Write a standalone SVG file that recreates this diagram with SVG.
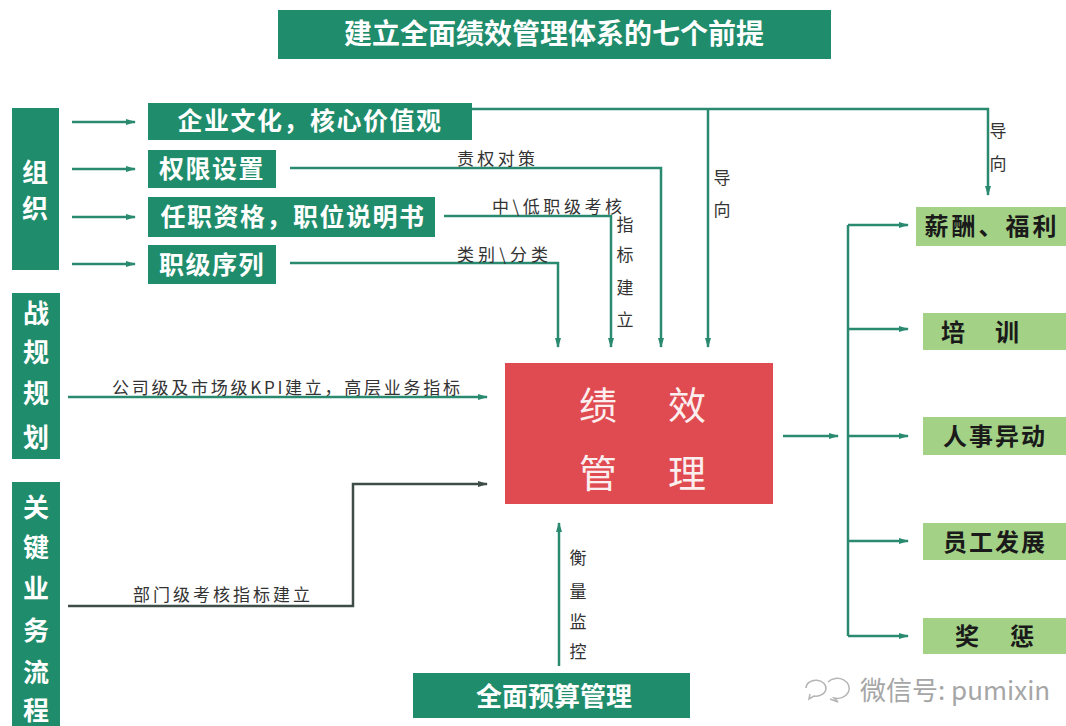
<svg xmlns="http://www.w3.org/2000/svg" width="1066" height="726" viewBox="0 0 1066 726">
<defs>
<style>
.dg{fill:#1f8c6b}
.lg{fill:#a3d186}
.red{fill:#e04a51}
.tw{font-family:"Noto Sans CJK SC","Noto Sans",sans-serif;font-weight:700;fill:#ffffff}
.tb{font-family:"Noto Sans CJK SC","Noto Sans",sans-serif;font-weight:700;fill:#1a1a1a;font-size:24px}
.lbl{font-family:"Noto Sans CJK SC","Noto Sans",sans-serif;fill:#333333;font-size:17px}
.con{fill:none;stroke:#2a8a70;stroke-width:2.5}
.cong{fill:none;stroke:#3f4d49;stroke-width:2.5}
.big{font-family:"Noto Sans CJK SC","Noto Sans",sans-serif;fill:#fbeeee;font-size:38px}
</style>
<marker id="ah" markerWidth="10" markerHeight="8" refX="9" refY="4" orient="auto" markerUnits="userSpaceOnUse">
<path d="M0,1 L10,4 L0,7 z" fill="#2a8a70"/>
</marker>
<marker id="ahg" markerWidth="10" markerHeight="8" refX="9" refY="4" orient="auto" markerUnits="userSpaceOnUse">
<path d="M0,1 L10,4 L0,7 z" fill="#3f4d49"/>
</marker>
</defs>
<rect width="1066" height="726" fill="#ffffff"/>

<g id="title">
<rect class="dg" x="278" y="10" width="553" height="49"/>
<text class="tw" x="554" y="44" font-size="28" text-anchor="middle">建立全面绩效管理体系的七个前提</text>
</g>

<g id="connectors">
<path class="con" d="M72,122 H135" marker-end="url(#ah)"/>
<path class="con" d="M72,169 H135" marker-end="url(#ah)"/>
<path class="con" d="M72,217 H135" marker-end="url(#ah)"/>
<path class="con" d="M72,264 H135" marker-end="url(#ah)"/>
<path class="con" d="M472,109 H988 V195" marker-end="url(#ah)"/>
<path class="con" d="M708,109 V347" marker-end="url(#ah)"/>
<path class="con" d="M290,168 H661 V347" marker-end="url(#ah)"/>
<path class="con" d="M444,216 H611 V347" marker-end="url(#ah)"/>
<path class="con" d="M290,263 H558 V347" marker-end="url(#ah)"/>
<path class="con" d="M68,397 H487" marker-end="url(#ah)"/>
<path class="cong" d="M68,606 H353 V484 H487" marker-end="url(#ahg)"/>
<path class="con" d="M559,666 V523" marker-end="url(#ah)"/>
<path class="con" d="M783,436 H838" marker-end="url(#ah)"/>
<path class="con" d="M848,225 V636"/>
<path class="con" d="M848,225 H908" marker-end="url(#ah)"/>
<path class="con" d="M848,329 H908" marker-end="url(#ah)"/>
<path class="con" d="M848,436 H908" marker-end="url(#ah)"/>
<path class="con" d="M848,541 H908" marker-end="url(#ah)"/>
<path class="con" d="M848,636 H908" marker-end="url(#ah)"/>
<text class="lbl" x="457" y="165" textLength="78">责权对策</text>
<text class="lbl" x="492" y="213" textLength="130">中\低职级考核</text>
<text class="lbl" x="457" y="261" textLength="91">类别\分类</text>
<text class="lbl" text-anchor="middle"><tspan x="625" y="231">指</tspan><tspan x="625" y="261">标</tspan><tspan x="625" y="294">建</tspan><tspan x="625" y="326">立</tspan></text>
<text class="lbl" text-anchor="middle"><tspan x="722" y="184">导</tspan><tspan x="722" y="216">向</tspan></text>
<text class="lbl" font-size="14" text-anchor="middle"><tspan x="998" y="137">导</tspan><tspan x="998" y="170">向</tspan></text>
<text class="lbl" x="112" y="394" textLength="348">公司级及市场级KPI建立，高层业务指标</text>
<text class="lbl" x="133" y="601" textLength="177">部门级考核指标建立</text>
<text class="lbl" text-anchor="middle"><tspan x="578" y="564">衡</tspan><tspan x="578" y="598">量</tspan><tspan x="578" y="628">监</tspan><tspan x="578" y="658">控</tspan></text>
</g>

<g id="node-org">
<rect class="dg" x="12" y="108" width="47" height="162"/>
<text class="tw" font-size="26" text-anchor="middle"><tspan x="35" y="182">组</tspan><tspan x="35" y="218">织</tspan></text>
</g>
<g id="node-strategy">
<rect class="dg" x="12" y="293" width="48" height="166"/>
<text class="tw" font-size="26" text-anchor="middle"><tspan x="36" y="323">战</tspan><tspan x="36" y="362">规</tspan><tspan x="36" y="403">规</tspan><tspan x="36" y="447">划</tspan></text>
</g>
<g id="node-process">
<rect class="dg" x="12" y="482" width="48" height="250"/>
<text class="tw" font-size="26" text-anchor="middle"><tspan x="36" y="517">关</tspan><tspan x="36" y="557">键</tspan><tspan x="36" y="598">业</tspan><tspan x="36" y="640">务</tspan><tspan x="36" y="682">流</tspan><tspan x="36" y="720">程</tspan></text>
</g>

<g id="node-culture">
<rect class="dg" x="148" y="103" width="324" height="37"/>
<text class="tw" x="310" y="130" font-size="25" text-anchor="middle" letter-spacing="1.5">企业文化，核心价值观</text>
</g>
<g id="node-authority">
<rect class="dg" x="148" y="150" width="128" height="38"/>
<text class="tw" x="212" y="178" font-size="25" text-anchor="middle" letter-spacing="1.5">权限设置</text>
</g>
<g id="node-qualification">
<rect class="dg" x="148" y="197" width="287" height="40"/>
<text class="tw" x="293" y="226" font-size="25" text-anchor="middle" letter-spacing="1.5">任职资格，职位说明书</text>
</g>
<g id="node-grade">
<rect class="dg" x="148" y="245" width="128" height="39"/>
<text class="tw" x="212" y="274" font-size="25" text-anchor="middle" letter-spacing="1.5">职级序列</text>
</g>

<g id="node-performance">
<rect class="red" x="505" y="363" width="268" height="141"/>
<text class="big" text-anchor="middle"><tspan x="598" y="419">绩</tspan><tspan x="687" y="419">效</tspan><tspan x="598" y="487">管</tspan><tspan x="687" y="487">理</tspan></text>
</g>

<g id="node-budget">
<rect class="dg" x="413" y="673" width="277" height="45"/>
<text class="tw" x="554" y="706" font-size="26" text-anchor="middle">全面预算管理</text>
</g>

<g id="node-salary">
<rect class="lg" x="916" y="207" width="150" height="39"/>
<text class="tb" x="992" y="235" text-anchor="middle" letter-spacing="3">薪酬、福利</text>
</g>
<g id="node-training">
<rect class="lg" x="923" y="313" width="143" height="37"/>
<text class="tb"><tspan x="941" y="341">培</tspan><tspan x="995" y="341">训</tspan></text>
</g>
<g id="node-transfer">
<rect class="lg" x="923" y="417" width="143" height="38"/>
<text class="tb" x="995" y="445" text-anchor="middle" letter-spacing="2">人事异动</text>
</g>
<g id="node-development">
<rect class="lg" x="923" y="523" width="143" height="37"/>
<text class="tb" x="995" y="551" text-anchor="middle" letter-spacing="2">员工发展</text>
</g>
<g id="node-reward">
<rect class="lg" x="923" y="618" width="143" height="36"/>
<text class="tb"><tspan x="955" y="645">奖</tspan><tspan x="1010" y="645">惩</tspan></text>
</g>

<g id="watermark">
<path d="M806,688 a10,8 0 1,1 8,8 l-5,3 l1,-5" fill="none" stroke="#b5b5b5" stroke-width="1.5"/>
<path d="M828,682 a12,10 0 1,1 6,16 l4,4 l-8,-3" fill="none" stroke="#b5b5b5" stroke-width="1.5"/>
<text x="860" y="700" font-family="'Noto Sans CJK SC','Noto Sans',sans-serif" font-size="26" fill="#a6a6a6">微信号: pumixin</text>
</g>
</svg>
